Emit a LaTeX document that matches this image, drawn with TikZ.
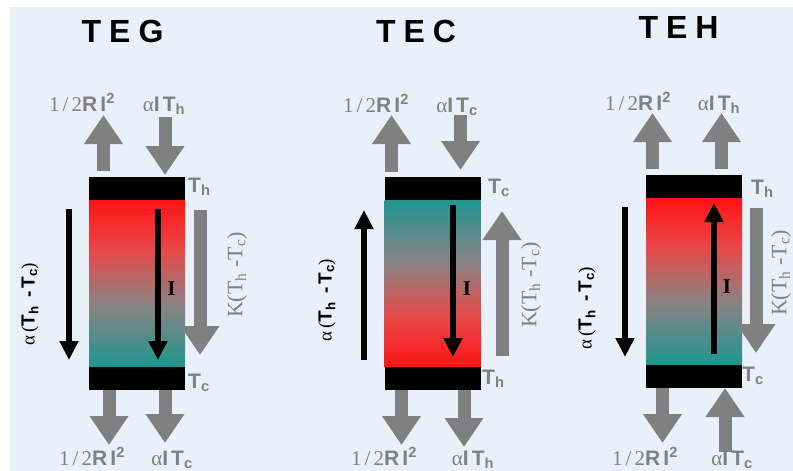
\documentclass[tikz,border=0pt]{standalone}
\usepackage{fontspec}
\setmainfont{Liberation Serif}
\setsansfont{Liberation Sans}
\newfontfamily\lrm[LetterSpace=15]{Liberation Serif}
\newfontfamily\lsf[LetterSpace=15]{Liberation Sans}
\newfontfamily\ttl[LetterSpace=25]{Liberation Sans}
\usetikzlibrary{arrows.meta}
\definecolor{panelblue}{RGB}{234,240,250}
\definecolor{heatgray}{RGB}{128,128,128}
\definecolor{hotred}{RGB}{255,20,20}
\definecolor{warmred}{RGB}{232,72,72}
\definecolor{mixgray}{RGB}{140,130,130}
\definecolor{coldteal}{RGB}{30,150,145}
\pgfdeclareverticalshading{hotcold}{100bp}{color(0bp)=(coldteal); color(25bp)=(coldteal); color(44bp)=(mixgray); color(60bp)=(warmred); color(75bp)=(hotred); color(100bp)=(hotred)}
\newcommand{\joule}{{\lrm 1/2}{\lsf\bfseries RI\textsuperscript{2}}}
\newcommand{\pelt}[1]{{\lrm α}{\lsf\bfseries IT\textsubscript{#1}}}
\newcommand{\seeb}{{\lrm α(}{\lsf\bfseries T\textsubscript{h} -T\textsubscript{c}}{\lrm )}}
\newcommand{\cond}{K(T\textsubscript{h} -T\textsubscript{c})}
\tikzset{
  plate/.style={fill=black, minimum width=96pt, minimum height=23pt, inner sep=0pt, outer sep=0pt},
  pellet/.style={shade, shading=hotcold, minimum width=96pt, minimum height=167pt, inner sep=0pt, outer sep=0pt},
  heatarrow/.style={draw=heatgray, line width=13pt, -{Triangle[width=37pt,length=29pt]}},
  signarrow/.style={draw=black, line width=6pt, -{Triangle[width=18pt,length=19pt]}},
  devname/.style={inner sep=0pt, anchor=base, font=\fontsize{32}{34}\selectfont\ttl\bfseries},
  heatlbl/.style={text=heatgray, inner sep=0pt, anchor=base, font=\fontsize{21}{22}\selectfont},
  templbl/.style={text=heatgray, inner sep=0pt, anchor=base west, font=\fontsize{21}{22}\selectfont\lsf\bfseries},
  klbl/.style={text=heatgray, inner sep=0pt, rotate=90, font=\fontsize{22}{24}\selectfont\rmfamily},
  slbl/.style={inner sep=0pt, rotate=90, font=\fontsize{19}{20}\selectfont},
  ilbl/.style={inner sep=0pt, font=\fontsize{21}{22}\selectfont\rmfamily\bfseries}
}
\begin{document}
\begin{tikzpicture}[x=1pt,y=-1pt]
    \useasboundingbox (0,0) rectangle (793,471);
    \fill[panelblue] (10,7) rectangle (793,471);

    \node[devname] (gname) at (122.5,42)  {TEG};
    \node[plate]   (gtop)  at (137,188.5) {};
    \node[pellet]  (gleg)  at (137,283.5) {};
    \node[plate]   (gbot)  at (137,378.5) {};
    \node[heatlbl] (gjt)   at (82,111)    {\joule};
    \node[heatlbl] (gpt)   at (164,111)   {\pelt{h}};
    \node[heatlbl] (gjb)   at (92,465)    {\joule};
    \node[heatlbl] (gpb)   at (172,465)   {\pelt{c}};
    \node[templbl] (gth)   at (188,192)   {T\textsubscript{h}};
    \node[templbl] (gtc)   at (188,388)   {T\textsubscript{c}};
    \node[klbl]    (gk)    at (237,275)   {\cond};
    \node[slbl]    (gs)    at (30,304)    {\seeb};
    \node[ilbl]    (gi)    at (171.5,289) {I};
    \coordinate (gj1) at (103.5,115);
    \coordinate (gp1) at (165,117);
    \coordinate (gj2) at (109,445);
    \coordinate (gp2) at (165,443);
    \coordinate (gk1) at (200,210);
    \coordinate (gk2) at (200,355);
    \coordinate (gs1) at (69,209);
    \coordinate (gs2) at (69,360);
    \coordinate (gi1) at (158,209);
    \coordinate (gi2) at (158,360);
    \draw[heatarrow] ([yshift=6pt]gtop.north -| gj1) -- (gj1);
    \draw[heatarrow] (gp1) -- ([yshift=2pt]gtop.north -| gp1);
    \draw[heatarrow] (gbot.south -| gj2) -- (gj2);
    \draw[heatarrow] (gbot.south -| gp2) -- (gp2);
    \draw[heatarrow] (gk1) -- (gk2);
    \draw[signarrow] (gs1) -- (gs2);
    \draw[signarrow] (gi1) -- (gi2);

    \node[devname] (cname) at (416,42)      {TEC};
    \node[plate]   (ctop)  at (432.5,188.5) {};
    \node[pellet, shading angle=180] (cleg) at (432.5,283.5) {};
    \node[plate]   (cbot)  at (432.5,378.5) {};
    \node[heatlbl] (cjt)   at (376,112)     {\joule};
    \node[heatlbl] (cpt)   at (457,112)     {\pelt{c}};
    \node[heatlbl] (cjb)   at (384,465)     {\joule};
    \node[heatlbl] (cpb)   at (473,465)     {\pelt{h}};
    \node[templbl] (ctc)   at (488,193)     {T\textsubscript{c}};
    \node[templbl] (cth)   at (482,384)     {T\textsubscript{h}};
    \node[klbl]    (ck)    at (531,285)     {\cond};
    \node[slbl]    (cs)    at (327,300)     {\seeb};
    \node[ilbl]    (ci)    at (467,289)     {I};
    \coordinate (cj1) at (391.5,115);
    \coordinate (cp1) at (460.5,115);
    \coordinate (cj2) at (401.5,445);
    \coordinate (cp2) at (464,447);
    \coordinate (ck1) at (502,356);
    \coordinate (ck2) at (502,211);
    \coordinate (cs1) at (364,360);
    \coordinate (cs2) at (364,210);
    \coordinate (ci1) at (453,205);
    \coordinate (ci2) at (453,357);
    \draw[heatarrow] ([yshift=5pt]ctop.north -| cj1) -- (cj1);
    \draw[heatarrow] (cp1) -- ([yshift=7pt]ctop.north -| cp1);
    \draw[heatarrow] (cbot.south -| cj2) -- (cj2);
    \draw[heatarrow] (cbot.south -| cp2) -- (cp2);
    \draw[heatarrow] (ck1) -- (ck2);
    \draw[signarrow] (cs1) -- (cs2);
    \draw[signarrow] (ci1) -- (ci2);

    \node[devname] (hname) at (678.5,38) {TEH};
    \node[plate]   (htop)  at (694,186)   {};
    \node[pellet]  (hleg)  at (694,281.5) {};
    \node[plate]   (hbot)  at (694,376.5) {};
    \node[heatlbl] (hjt)   at (638,110)   {\joule};
    \node[heatlbl] (hpt)   at (719,110)   {\pelt{h}};
    \node[heatlbl] (hjb)   at (645,465)   {\joule};
    \node[heatlbl] (hpb)   at (732,465)   {\pelt{c}};
    \node[templbl] (hth)   at (751,194)   {T\textsubscript{h}};
    \node[templbl] (htc)   at (742,381)   {T\textsubscript{c}};
    \node[klbl]    (hk)    at (781,273)   {\cond};
    \node[slbl]    (hs)    at (587,308)   {\seeb};
    \node[ilbl]    (hi)    at (727,287)   {I};
    \coordinate (hj1) at (652.5,113);
    \coordinate (hp1) at (721.5,113);
    \coordinate (hj2) at (662.5,443);
    \coordinate (hp2) at (725,452);
    \coordinate (hk1) at (756,208);
    \coordinate (hk2) at (756,353);
    \coordinate (hs1) at (625,207);
    \coordinate (hs2) at (625,357);
    \coordinate (hi1) at (714,354);
    \coordinate (hi2) at (714,203);
    \draw[heatarrow] ([yshift=6pt]htop.north -| hj1) -- (hj1);
    \draw[heatarrow] ([yshift=6pt]htop.north -| hp1) -- (hp1);
    \draw[heatarrow] (hbot.south -| hj2) -- (hj2);
    \draw[heatarrow] (hp2) -- (hbot.south -| hp2);
    \draw[heatarrow] (hk1) -- (hk2);
    \draw[signarrow] (hs1) -- (hs2);
    \draw[signarrow] (hi1) -- (hi2);
\end{tikzpicture}
\end{document}
